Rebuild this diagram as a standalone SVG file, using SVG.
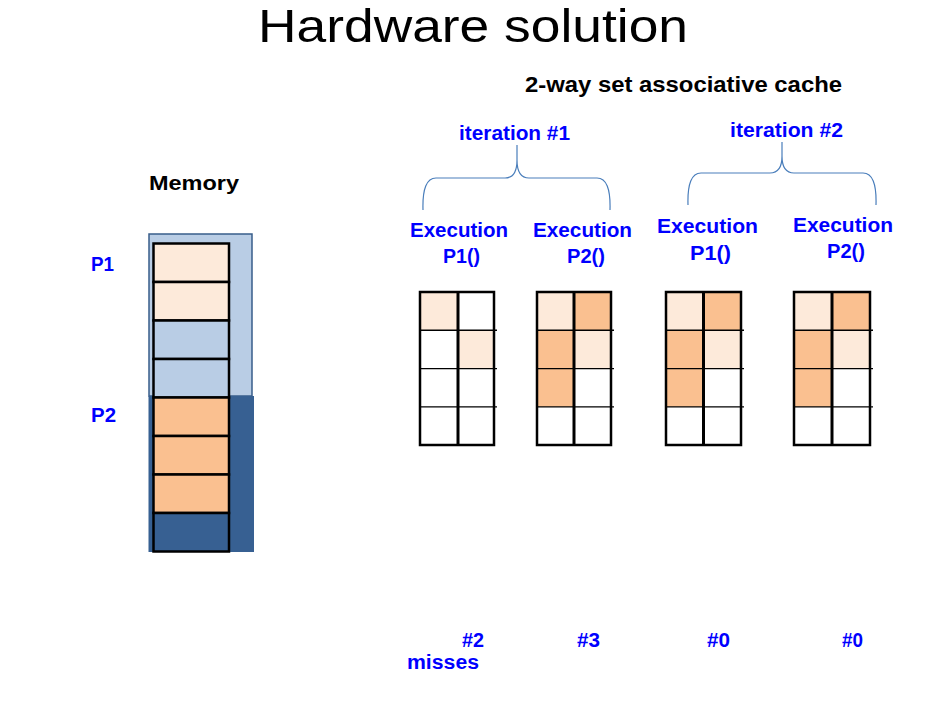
<svg xmlns="http://www.w3.org/2000/svg" width="944" height="702" viewBox="0 0 944 702">
<style>
.title{font-family:"Liberation Sans",Arial,sans-serif;font-size:47px;fill:#000}
.hd{font-family:"Liberation Sans",Arial,sans-serif;font-size:22px;font-weight:bold;fill:#000}
.bl{font-family:"Liberation Sans",Arial,sans-serif;font-size:20px;font-weight:bold;fill:#0000FF}
.brace{fill:none;stroke:#4A7EBB;stroke-width:1.2}
.cell{stroke:#000;stroke-width:2.5}
.mc{stroke:#000;stroke-width:2.5}
.hl{stroke:#000;stroke-width:1.4}
.vl{stroke:#000;stroke-width:3}
.lp{fill:#FDEADA}
.pk{fill:#FAC090}
.lb{fill:#B9CDE5}
.db{fill:#376092}
</style>
<rect width="944" height="702" fill="#fff"/>
<text class="title" x="258" y="42" textLength="430" lengthAdjust="spacingAndGlyphs">Hardware solution</text>
<text class="hd" x="525" y="92" textLength="317" lengthAdjust="spacingAndGlyphs">2-way set associative cache</text>

<g id="memory">
<text class="hd" x="149" y="190" textLength="90" lengthAdjust="spacingAndGlyphs" style="font-size:20px">Memory</text>
<text class="bl" x="91" y="271" textLength="23" lengthAdjust="spacingAndGlyphs">P1</text>
<text class="bl" x="91" y="422" textLength="25" lengthAdjust="spacingAndGlyphs">P2</text>
<rect x="149" y="234" width="103" height="162" class="lb" stroke="#385D8A" stroke-width="1.5"/>
<rect x="148.5" y="396" width="105.5" height="156" class="db"/>
<g class="mc">
<rect x="153.5" y="243.5" width="75.5" height="38.5" class="lp"/>
<rect x="153.5" y="282" width="75.5" height="38.5" class="lp"/>
<rect x="153.5" y="320.5" width="75.5" height="38.5" class="lb"/>
<rect x="153.5" y="359" width="75.5" height="38.5" class="lb"/>
<rect x="153.5" y="397.5" width="75.5" height="38.5" class="pk"/>
<rect x="153.5" y="436" width="75.5" height="38.5" class="pk"/>
<rect x="153.5" y="474.5" width="75.5" height="38.5" class="pk"/>
<rect x="153.5" y="513" width="75.5" height="38.5" class="db"/>
</g>
</g>

<g id="iteration1">
<text class="bl" x="459" y="140" textLength="111" lengthAdjust="spacingAndGlyphs">iteration #1</text>
<path class="brace" d="M423,210 Q422,178 436,178 L505,178 Q517,178 517,160 L517,145 M517,160 Q517,178 529,178 L597,178 Q611,178 610,210"/>
</g>
<g id="iteration2">
<text class="bl" x="730" y="137" textLength="113" lengthAdjust="spacingAndGlyphs">iteration #2</text>
<path class="brace" d="M688,205 Q687,173 701,173 L770,173 Q782,173 782,156 L782,142 M782,156 Q782,173 794,173 L863,173 Q877,173 876,205"/>
</g>

<g id="cache1">
<text class="bl" x="410" y="237" textLength="98" lengthAdjust="spacingAndGlyphs">Execution</text>
<text class="bl" x="443" y="263" textLength="37" lengthAdjust="spacingAndGlyphs">P1()</text>
<rect x="420" y="292" width="38" height="38.3" class="lp"/>
<rect x="458" y="330.3" width="36" height="38.3" class="lp"/>
<g class="hl"><line x1="420" y1="330.3" x2="497" y2="330.3"/><line x1="420" y1="368.6" x2="497" y2="368.6"/><line x1="420" y1="406.9" x2="497" y2="406.9"/></g>
<line class="vl" x1="458" y1="292" x2="458" y2="445"/>
<rect x="420" y="292" width="74" height="153" fill="none" class="cell"/>
</g>

<g id="cache2">
<text class="bl" x="533" y="237" textLength="99" lengthAdjust="spacingAndGlyphs">Execution</text>
<text class="bl" x="567" y="263" textLength="38" lengthAdjust="spacingAndGlyphs">P2()</text>
<rect x="537" y="292" width="37" height="38.3" class="lp"/>
<rect x="574" y="292" width="37" height="38.3" class="pk"/>
<rect x="537" y="330.3" width="37" height="76.6" class="pk"/>
<rect x="574" y="330.3" width="37" height="38.3" class="lp"/>
<g class="hl"><line x1="537" y1="330.3" x2="614" y2="330.3"/><line x1="537" y1="368.6" x2="614" y2="368.6"/><line x1="537" y1="406.9" x2="614" y2="406.9"/></g>
<line class="vl" x1="574" y1="292" x2="574" y2="445"/>
<rect x="537" y="292" width="74" height="153" fill="none" class="cell"/>
</g>

<g id="cache3">
<text class="bl" x="657" y="233" textLength="101" lengthAdjust="spacingAndGlyphs">Execution</text>
<text class="bl" x="690" y="260" textLength="41" lengthAdjust="spacingAndGlyphs">P1()</text>
<rect x="666" y="292" width="37.5" height="38.3" class="lp"/>
<rect x="703.5" y="292" width="37.5" height="38.3" class="pk"/>
<rect x="666" y="330.3" width="37.5" height="76.6" class="pk"/>
<rect x="703.5" y="330.3" width="37.5" height="38.3" class="lp"/>
<g class="hl"><line x1="666" y1="330.3" x2="744" y2="330.3"/><line x1="666" y1="368.6" x2="744" y2="368.6"/><line x1="666" y1="406.9" x2="744" y2="406.9"/></g>
<line class="vl" x1="703.5" y1="292" x2="703.5" y2="445"/>
<rect x="666" y="292" width="75" height="153" fill="none" class="cell"/>
</g>

<g id="cache4">
<text class="bl" x="793" y="232" textLength="100" lengthAdjust="spacingAndGlyphs">Execution</text>
<text class="bl" x="827" y="258" textLength="38" lengthAdjust="spacingAndGlyphs">P2()</text>
<rect x="794" y="292" width="38" height="38.3" class="lp"/>
<rect x="832" y="292" width="38" height="38.3" class="pk"/>
<rect x="794" y="330.3" width="38" height="76.6" class="pk"/>
<rect x="832" y="330.3" width="38" height="38.3" class="lp"/>
<g class="hl"><line x1="794" y1="330.3" x2="873" y2="330.3"/><line x1="794" y1="368.6" x2="873" y2="368.6"/><line x1="794" y1="406.9" x2="873" y2="406.9"/></g>
<line class="vl" x1="832" y1="292" x2="832" y2="445"/>
<rect x="794" y="292" width="76" height="153" fill="none" class="cell"/>
</g>

<g id="misses">
<text class="bl" x="462" y="647" textLength="22" lengthAdjust="spacingAndGlyphs">#2</text>
<text class="bl" x="577" y="647" textLength="23" lengthAdjust="spacingAndGlyphs">#3</text>
<text class="bl" x="707" y="647" textLength="23" lengthAdjust="spacingAndGlyphs">#0</text>
<text class="bl" x="842" y="647" textLength="21" lengthAdjust="spacingAndGlyphs">#0</text>
<text class="bl" x="407" y="669" textLength="72" lengthAdjust="spacingAndGlyphs">misses</text>
</g>
<g id="connectors"/>
</svg>
